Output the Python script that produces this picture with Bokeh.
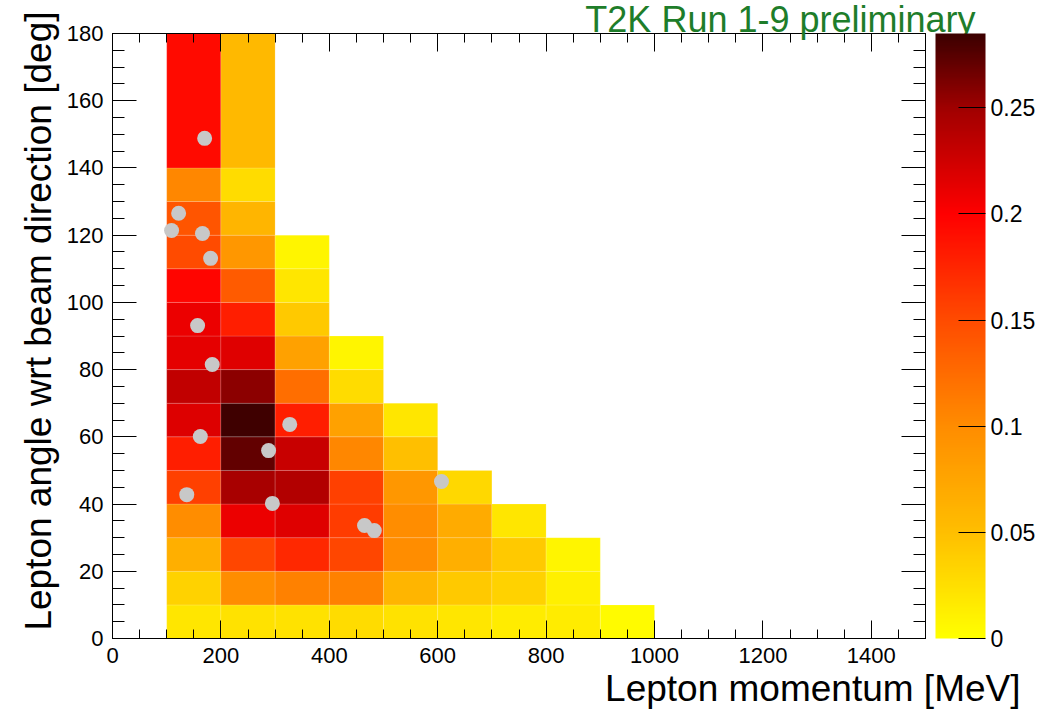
import numpy as np
from bokeh.plotting import figure
from bokeh.models import (LinearColorMapper, ColorBar, LinearAxis, SingleIntervalTicker,
                          FixedTicker, Title, Range1d, ColumnDataSource, CustomJSTickFormatter)
from bokeh.embed import file_html
from bokeh.resources import INLINE

# ---------------- data ----------------
p_edges = [100, 200, 300, 400, 500, 600, 700, 800, 900, 1000]          # MeV
theta_edges = [0, 10, 20, 30, 40, 50, 60, 70, 80, 90, 100, 110, 120, 130, 140, 180]  # deg

# bin contents per momentum bin, from lowest angle bin upward
col_100_200 = [0.019, 0.035, 0.065, 0.100, 0.157, 0.180, 0.218, 0.232, 0.213, 0.210, 0.197, 0.150, 0.142, 0.104, 0.193]
col_200_300 = [0.023, 0.100, 0.153, 0.210, 0.245, 0.271, 0.283, 0.257, 0.216, 0.180, 0.138, 0.090, 0.060, 0.027, 0.055]
col_300_400 = [0.023, 0.108, 0.173, 0.216, 0.240, 0.229, 0.180, 0.123, 0.080, 0.042, 0.019, 0.008]
col_400_500 = [0.027, 0.108, 0.153, 0.160, 0.157, 0.104, 0.080, 0.027, 0.008]
col_500_600 = [0.023, 0.060, 0.100, 0.100, 0.090, 0.050, 0.019]
col_600_700 = [0.019, 0.042, 0.065, 0.070, 0.031]
col_700_800 = [0.015, 0.035, 0.042, 0.019]
col_800_900 = [0.015, 0.012, 0.008]
col_900_1000 = [0.004]
columns = [col_100_200, col_200_300, col_300_400, col_400_500, col_500_600,
           col_600_700, col_700_800, col_800_900, col_900_1000]

# observed events
evt_p = [170, 122, 109, 166, 181, 157, 184, 327, 162, 288, 137, 295, 465, 483, 607]
evt_theta = [148.8, 126.5, 121.4, 120.5, 113.1, 93.1, 81.5, 63.7, 60.1, 55.9, 42.8, 40.2, 33.6, 32.1, 46.7]

x_ticks_interval = 200
y_ticks_interval = 20
cbar_ticks = [0, 0.05, 0.1, 0.15, 0.2, 0.25]
z_max = 0.285

# ---------------- palette ----------------
anc_pos = [0, 0.05, 0.10, 0.15, 0.20, 0.25, 0.285]
anc_col = [(255, 255, 0), (255, 190, 0), (255, 140, 0), (255, 75, 0), (255, 0, 0), (160, 0, 0), (60, 0, 0)]
grid = np.linspace(0, z_max, 256)
palette = []
for g in grid:
    r = np.interp(g, anc_pos, [c[0] for c in anc_col])
    gg = np.interp(g, anc_pos, [c[1] for c in anc_col])
    b = np.interp(g, anc_pos, [c[2] for c in anc_col])
    palette.append("#%02x%02x%02x" % (int(round(r)), int(round(gg)), int(round(b))))
mapper = LinearColorMapper(palette=palette, low=0, high=z_max)

# ---------------- cells ----------------
left, right, bottom, top, z = [], [], [], [], []
for i, col in enumerate(columns):
    for j, v in enumerate(col):
        left.append(p_edges[i]); right.append(p_edges[i + 1])
        bottom.append(theta_edges[j]); top.append(theta_edges[j + 1])
        z.append(v)
src = ColumnDataSource(dict(left=left, right=right, bottom=bottom, top=top, z=z))

FONT = "Liberation Sans"

p = figure(frame_width=813, frame_height=605,
           x_range=Range1d(0, 1500), y_range=Range1d(0, 180),
           output_backend="svg", toolbar_location=None,
           min_border_left=112, min_border_right=115, min_border_top=33, min_border_bottom=73)
p.background_fill_color = "white"
p.border_fill_color = "white"
p.outline_line_color = "black"
p.xgrid.grid_line_color = None
p.ygrid.grid_line_color = None

p.quad(left="left", right="right", bottom="bottom", top="top", source=src,
       fill_color={"field": "z", "transform": mapper},
       line_color="white", line_alpha=0.25, line_width=0.6)

p.scatter(evt_p, evt_theta, size=15, color="#c8c8c8", line_color=None)

xt = SingleIntervalTicker(interval=x_ticks_interval, num_minor_ticks=4)
yt = SingleIntervalTicker(interval=y_ticks_interval, num_minor_ticks=4)
blank = CustomJSTickFormatter(code="return ''")

def style_axis(ax, tin, minin, labels=True):
    ax.major_tick_in = tin
    ax.minor_tick_in = minin
    ax.major_tick_out = 0
    ax.minor_tick_out = 0
    ax.axis_line_color = "black"
    ax.major_tick_line_color = "black"
    ax.minor_tick_line_color = "black"
    if labels:
        ax.major_label_text_font = FONT
        ax.major_label_text_font_size = "22px"
        ax.major_label_text_color = "black"
    else:
        ax.formatter = blank
        ax.major_label_text_font_size = "1px"

p.xaxis.ticker = xt
p.yaxis.ticker = yt
style_axis(p.xaxis[0], 18, 9)
style_axis(p.yaxis[0], 24, 12)
p.xaxis.major_label_standoff = 9
p.yaxis.major_label_standoff = 9

top_ax = LinearAxis(ticker=xt)
style_axis(top_ax, 18, 9, labels=False)
top_ax.major_label_standoff = 0
p.add_layout(top_ax, "above")
right_ax = LinearAxis(ticker=yt)
style_axis(right_ax, 24, 12, labels=False)
right_ax.major_label_standoff = 0
right_ax.axis_label = " "
right_ax.axis_label_text_font_size = "1px"
right_ax.axis_label_standoff = 6
p.add_layout(right_ax, "right")

cb = ColorBar(color_mapper=mapper, ticker=FixedTicker(ticks=cbar_ticks),
              formatter=CustomJSTickFormatter(code="return String(parseFloat(tick.toFixed(3)))"),
              width=50, height=605, padding=0, margin=0, label_standoff=5,
              major_tick_in=27, major_tick_out=0, major_tick_line_color="black",
              minor_tick_line_color=None, bar_line_color=None, border_line_color=None,
              background_fill_color=None,
              major_label_text_font=FONT, major_label_text_font_size="23px",
              major_label_text_color="black")
p.add_layout(cb, "right")

p.add_layout(Title(text="T2K Run 1-9 preliminary", align="right", offset=-50, standoff=-13,
                   text_font=FONT, text_font_size="36px", text_font_style="normal",
                   text_color="#1e7d2a"), "above")
p.add_layout(Title(text="Lepton momentum [MeV]", align="right", offset=-95, standoff=0,
                   text_font=FONT, text_font_size="37px", text_font_style="normal",
                   text_color="black"), "below")
p.add_layout(Title(text="Lepton angle wrt beam direction [deg]", align="right", offset=-22, standoff=10,
                   text_font=FONT, text_font_size="37px", text_font_style="normal",
                   text_color="black"), "left")

open("out.html", "w").write(file_html(p, INLINE))
